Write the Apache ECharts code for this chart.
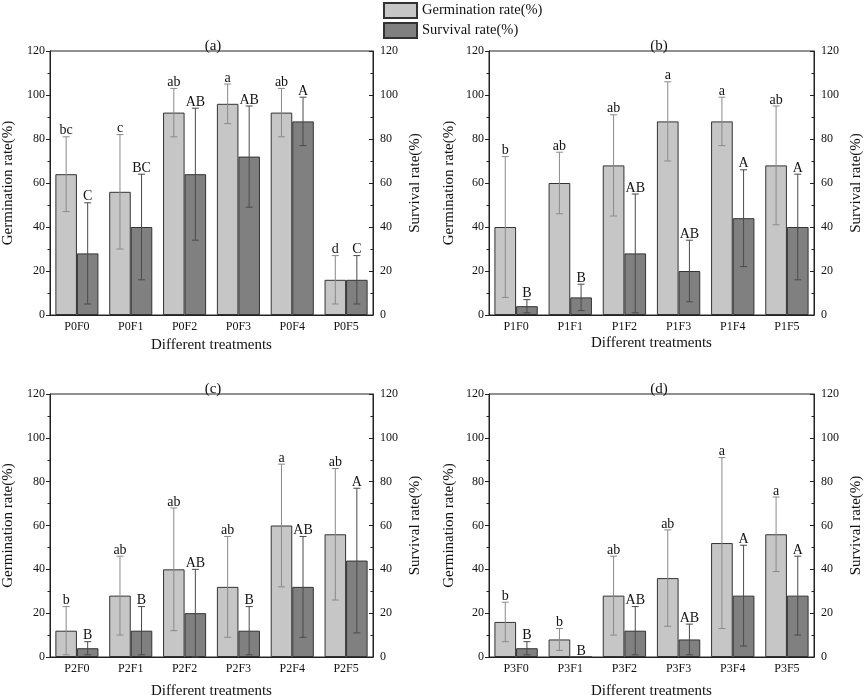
<!DOCTYPE html>
<html>
<head>
<meta charset="utf-8">
<script src="https://cdn.jsdelivr.net/npm/echarts@6/dist/echarts.min.js"></script>
<style>
  html, body { margin: 0; padding: 0; background: #fff; }
  #chart { width: 865px; height: 700px; }
</style>
</head>
<body>
<div id="chart"></div>
<script>
const catsA = ['P0F0', 'P0F1', 'P0F2', 'P0F3', 'P0F4', 'P0F5']
const catsB = ['P1F0', 'P1F1', 'P1F2', 'P1F3', 'P1F4', 'P1F5']
const catsC = ['P2F0', 'P2F1', 'P2F2', 'P2F3', 'P2F4', 'P2F5']
const catsD = ['P3F0', 'P3F1', 'P3F2', 'P3F3', 'P3F4', 'P3F5']

const germA = [64, 56, 92, 96, 92, 16]
const germErrA = [17, 26, 11, 9, 11, 11]
const survA = [28, 40, 64, 72, 88, 16]
const survErrA = [23, 24, 30, 23, 11, 11]
const germLetA = ['bc', 'c', 'ab', 'a', 'ab', 'd']
const survLetA = ['C', 'BC', 'AB', 'AB', 'A', 'C']

const germB = [40, 60, 68, 88, 88, 68]
const germErrB = [32, 14, 23, 18, 11, 27]
const survB = [4, 8, 28, 20, 44, 40]
const survErrB = [3, 6, 27, 14, 22, 24]
const germLetB = ['b', 'ab', 'ab', 'a', 'a', 'ab']
const survLetB = ['B', 'B', 'AB', 'AB', 'A', 'A']

const germC = [12, 28, 40, 32, 60, 56]
const germErrC = [11, 18, 28, 23, 28, 30]
const survC = [4, 12, 20, 12, 32, 44]
const survErrC = [3, 11, 20, 11, 23, 33]
const germLetC = ['b', 'ab', 'ab', 'ab', 'a', 'ab']
const survLetC = ['B', 'B', 'AB', 'B', 'AB', 'A']

const germD = [16, 8, 28, 36, 52, 56]
const germErrD = [9, 5, 18, 22, 39, 17]
const survD = [4, 0, 12, 8, 28, 28]
const survErrD = [3, 0, 11, 7, 23, 18]
const germLetD = ['b', 'b', 'ab', 'ab', 'a', 'a']
const survLetD = ['B', 'B', 'AB', 'AB', 'A', 'A']

const yTicks = [0, 20, 40, 60, 80, 100, 120]

const FONT = '"Liberation Serif", "Times New Roman", serif'
const AXIS = '#222'

const panels = [
  { tag: '(a)', cats: catsA, germ: germA, gErr: germErrA, surv: survA, sErr: survErrA, gLet: germLetA, sLet: survLetA,
    grid: { left: 43, top: 51, width: 330, height: 264 }, nameL: 34, nameR: 35, nameX: 23 },
  { tag: '(b)', cats: catsB, germ: germB, gErr: germErrB, surv: survB, sErr: survErrB, gLet: germLetB, sLet: survLetB,
    grid: { left: 489, top: 51, width: 330, height: 264 }, nameL: 32, nameR: 35, nameX: 21 },
  { tag: '(c)', cats: catsC, germ: germC, gErr: germErrC, surv: survC, sErr: survErrC, gLet: germLetC, sLet: survLetC,
    grid: { left: 43, top: 394, width: 330, height: 265 }, nameL: 34, nameR: 35, nameX: 27 },
  { tag: '(d)', cats: catsD, germ: germD, gErr: germErrD, surv: survD, sErr: survErrD, gLet: germLetD, sLet: survLetD,
    grid: { left: 489, top: 394, width: 330, height: 265 }, nameL: 32, nameR: 35, nameX: 27 },
]

// error bar + letter drawn over a bar; side -1 = left bar, +1 = right bar
const errRender = (side, letters, color) => (params, api) => {
  const idx = api.value(0)
  const v = api.value(1)
  const e = api.value(2)
  const band = api.size([1, 0])[0]
  const x = api.coord([idx, v])[0] + side * band * 0.2
  const top = api.coord([idx, v + e])[1]
  const bot = api.coord([idx, Math.max(v - e, 0)])[1]
  const children = []
  if (e > 0) {
    const ls = { stroke: color, lineWidth: 1 }
    children.push({ type: 'line', shape: { x1: x, y1: top, x2: x, y2: bot }, style: ls })
    children.push({ type: 'line', shape: { x1: x - 3.5, y1: top, x2: x + 3.5, y2: top }, style: ls })
    children.push({ type: 'line', shape: { x1: x - 3.5, y1: bot, x2: x + 3.5, y2: bot }, style: ls })
  }
  children.push({
    type: 'text',
    style: {
      text: letters[idx], x: x, y: top + 1,
      align: 'center', verticalAlign: 'bottom',
      font: '14px ' + FONT, fill: '#111',
    },
  })
  return { type: 'group', children }
}

const grids = [], xAxes = [], yAxes = [], series = [], titles = []

panels.forEach((p, i) => {
  grids.push({ ...p.grid, show: true, borderColor: AXIS, borderWidth: 1, containLabel: false })
  titles.push({
    text: p.tag, left: p.grid.left + p.grid.width / 2, top: p.grid.top - 17, textAlign: 'center',
    textStyle: { fontFamily: FONT, fontSize: 15, fontWeight: 'normal', color: '#111' },
  })
  xAxes.push({
    type: 'category', gridIndex: i, data: p.cats,
    name: 'Different treatments', nameLocation: 'middle', nameGap: p.nameX,
    nameTextStyle: { fontFamily: FONT, fontSize: 15, color: '#111' },
    axisLine: { lineStyle: { color: AXIS } },
    axisTick: { alignWithLabel: true, inside: true, length: 3, lineStyle: { color: AXIS } },
    axisLabel: { fontFamily: FONT, fontSize: 12, color: '#111', margin: 6 },
  })
  const yBase = {
    type: 'value', gridIndex: i, min: yTicks[0], max: yTicks[yTicks.length - 1], interval: 20,
    nameLocation: 'middle', nameRotate: 90,
    nameTextStyle: { fontFamily: FONT, fontSize: 15, color: '#111' },
    axisLine: { show: true, lineStyle: { color: AXIS } },
    splitLine: { show: false },
    minorTick: { show: true, splitNumber: 2, length: 2.5, lineStyle: { color: AXIS } },
    axisLabel: { fontFamily: FONT, fontSize: 12, color: '#111', margin: 5 },
  }
  yAxes.push({
    ...yBase, position: 'left', name: 'Germination rate(%)', nameGap: p.nameL,
    axisTick: { show: true, inside: false, length: 4, lineStyle: { color: AXIS } },
  })
  yAxes.push({
    ...yBase, position: 'right', name: 'Survival rate(%)', nameGap: p.nameR,
    axisTick: { show: true, inside: true, length: 4, lineStyle: { color: AXIS } },
    axisLabel: { ...yBase.axisLabel, margin: 7 },
  })
  series.push({
    name: 'Germination rate(%)', type: 'bar', xAxisIndex: i, yAxisIndex: i * 2,
    data: p.germ, barGap: '0%', barCategoryGap: '20%',
    itemStyle: { color: '#c6c6c6', borderColor: '#333', borderWidth: 1 },
  })
  series.push({
    name: 'Survival rate(%)', type: 'bar', xAxisIndex: i, yAxisIndex: i * 2 + 1,
    data: p.surv, barGap: '0%', barCategoryGap: '20%',
    itemStyle: { color: '#808080', borderColor: '#333', borderWidth: 1 },
  })
  series.push({
    type: 'custom', xAxisIndex: i, yAxisIndex: i * 2, z: 5, silent: true,
    data: p.germ.map((v, k) => [k, v, p.gErr[k]]),
    renderItem: errRender(-1, p.gLet, '#8a8a8a'),
  })
  series.push({
    type: 'custom', xAxisIndex: i, yAxisIndex: i * 2 + 1, z: 5, silent: true,
    data: p.surv.map((v, k) => [k, v, p.sErr[k]]),
    renderItem: errRender(1, p.sLet, '#4a4a4a'),
  })
})

const myChart = echarts.init(document.getElementById('chart'))
myChart.setOption({
  animation: false,
  backgroundColor: '#fff',
  title: titles,
  legend: {
    data: ['Germination rate(%)', 'Survival rate(%)'],
    orient: 'vertical', left: 383, top: 2,
    itemWidth: 33, itemHeight: 15, itemGap: 3,
    icon: 'rect',
    textStyle: { fontFamily: FONT, fontSize: 14.5, color: '#111' },
    padding: 0,
  },
  grid: grids,
  xAxis: xAxes,
  yAxis: yAxes,
  series,
})
</script>
</body>
</html>
